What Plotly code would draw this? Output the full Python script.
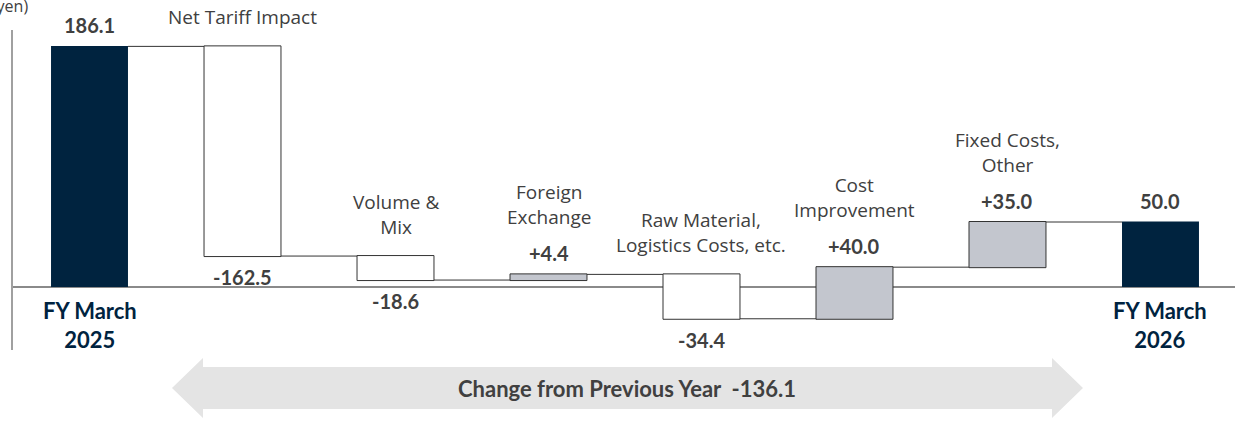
import plotly.graph_objects as go

# ---- data ----
categories = ["FY March 2025", "Net Tariff Impact", "Volume & Mix", "Foreign Exchange",
              "Raw Material, Logistics Costs, etc.", "Cost Improvement",
              "Fixed Costs, Other", "FY March 2026"]
values = [186.1, -162.5, -18.6, 4.4, -34.4, 40.0, 35.0, 50.0]
measures = ["absolute", "relative", "relative", "relative", "relative", "relative", "relative", "total"]
value_labels = ["186.1", "-162.5", "-18.6", "+4.4", "-34.4", "+40.0", "+35.0", "50.0"]
cat_labels = ["FY March<br>2025", "Net Tariff Impact", "Volume &<br>Mix", "Foreign<br>Exchange",
              "Raw Material,<br>Logistics Costs, etc.", "Cost<br>Improvement",
              "Fixed Costs,<br>Other", "FY March<br>2026"]
change_text = "Change from Previous Year  -136.1"
unit_text = "(Billions of yen)"

NAVY = "#00233F"
GRAY_BAR = "#C3C6CE"
TXT = "#404040"
FONT_B = "Lato"
FONT_R = "Open Sans"

W, H = 1235, 421
ML, MR, MT, MB = 13, 0, 30, 71
x = list(range(len(categories)))

fig = go.Figure(go.Waterfall(
    x=x, y=values, measure=measures, width=0.503,
    textinfo="none",
    increasing=dict(marker=dict(color=GRAY_BAR, line=dict(color="#333333", width=1))),
    decreasing=dict(marker=dict(color="white", line=dict(color="#333333", width=1))),
    totals=dict(marker=dict(color=NAVY, line=dict(color=NAVY, width=0))),
    connector=dict(mode="between", line=dict(color="#333333", width=1)),
    hoverinfo="skip",
))

# cumulative positions from data
ann = []
run = 0.0
for i, (v, m) in enumerate(zip(values, measures)):
    if m == "absolute":
        lo, hi = 0.0, v
        run = v
    elif m == "total":
        lo, hi = 0.0, run
    else:
        lo, hi = (run, run + v) if v >= 0 else (run + v, run)
        run += v
    is_total = m in ("absolute", "total")
    vfont = dict(size=20, color=TXT, family=FONT_B)
    cfont = dict(size=19, color=TXT, family=FONT_R)
    if is_total:
        ann.append(dict(x=i, y=hi, text="<b>%s</b>" % value_labels[i], yanchor="bottom",
                        yshift=7, font=vfont))
        ann.append(dict(x=i, y=0, text="<b>%s</b>" % cat_labels[i], yanchor="top",
                        yshift=-8, font=dict(size=22, color=NAVY, family=FONT_B)))
    elif v < 0:
        ann.append(dict(x=i, y=lo, text="<b>%s</b>" % value_labels[i], yanchor="top",
                        yshift=-7, font=vfont))
        ann.append(dict(x=i, y=hi, text=cat_labels[i], yanchor="bottom",
                        yshift=14, font=cfont))
    else:
        ann.append(dict(x=i, y=hi, text="<b>%s</b>" % value_labels[i], yanchor="bottom",
                        yshift=7, font=vfont))
        ann.append(dict(x=i, y=hi, text=cat_labels[i], yanchor="bottom",
                        yshift=42, font=cfont))

for a in ann:
    a.update(xref="x", yref="y", showarrow=False, xanchor="center")

# pixel -> paper helpers (for decoration only)
PW, PH = W - ML - MR, H - MT - MB
def px(xp):
    return (xp - ML) / PW
def py(yp):
    return (H - MB - yp) / PH

# double arrow
pts = [(172, 388), (203, 358), (203, 367), (1052, 367), (1052, 358), (1083, 388),
       (1052, 418), (1052, 409), (203, 409), (203, 418)]
path = "M " + " L ".join("%.5f,%.5f" % (px(a), py(b)) for a, b in pts) + " Z"
fig.add_shape(type="path", path=path, xref="paper", yref="paper",
              fillcolor="#E4E4E4", line=dict(width=0), layer="below")

ann.append(dict(xref="paper", yref="paper", x=px(627), y=py(388), text="<b>%s</b>" % change_text,
                showarrow=False, xanchor="center", yanchor="middle",
                font=dict(size=22, color=TXT, family=FONT_B)))
ann.append(dict(xref="paper", yref="paper", x=px(30), y=py(6), text=unit_text,
                showarrow=False, xanchor="right", yanchor="middle",
                font=dict(size=16, color=TXT, family=FONT_R)))

fig.update_layout(
    width=W, height=H, margin=dict(l=ML, r=MR, t=MT, b=MB),
    paper_bgcolor="white", plot_bgcolor="white", showlegend=False,
    annotations=ann,
    xaxis=dict(range=[-0.5, 7.487], visible=False, fixedrange=True),
    yaxis=dict(range=[-49.2, 198.8], showticklabels=False, showgrid=False, ticks="",
               showline=True, linecolor="#A0A0A0", linewidth=1.5,
               zeroline=True, zerolinecolor="#8A8A8A", zerolinewidth=1.5, fixedrange=True),
)

fig.write_html("out.html")
